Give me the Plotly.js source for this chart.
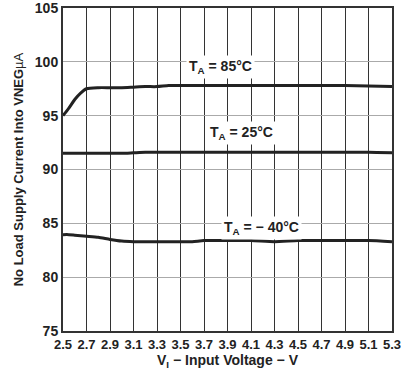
<!DOCTYPE html>
<html><head><meta charset="utf-8">
<script src="https://cdn.plot.ly/plotly-3.0.1.min.js"></script>
<style>body{margin:0;background:#fff}#c{width:401px;height:370px}</style>
</head><body><div id="c"></div>
<script>
const vIn = [2.5,2.55,2.6,2.65,2.7,2.8,2.9,3.0,3.1,3.2,3.3,3.4,3.5,3.6,3.7,3.9,4.1,4.3,4.5,4.7,4.9,5.1,5.3];
const i85 = [95.0,95.7,96.5,97.1,97.5,97.6,97.6,97.6,97.65,97.7,97.7,97.8,97.8,97.8,97.8,97.8,97.8,97.8,97.8,97.8,97.8,97.75,97.7];
const i25 = [91.5,91.5,91.5,91.5,91.5,91.5,91.5,91.5,91.55,91.6,91.6,91.6,91.6,91.6,91.6,91.6,91.6,91.6,91.6,91.6,91.6,91.6,91.55];
const iM40 = [83.95,83.95,83.9,83.85,83.8,83.7,83.5,83.35,83.3,83.3,83.3,83.3,83.3,83.3,83.4,83.4,83.4,83.3,83.4,83.4,83.4,83.4,83.3];
const xTicks = [2.5,2.7,2.9,3.1,3.3,3.5,3.7,3.9,4.1,4.3,4.5,4.7,4.9,5.1,5.3];
const yTicks = [75,80,85,90,95,100,105];
const labels = ["T<sub>A</sub> = 85°C","T<sub>A</sub> = 25°C","T<sub>A</sub> = − 40°C"];
const labelX = [3.84,4.02,4.19];
const labelY = [99.5,93.4,84.6];

const lineStyle = {color:'#222', width:3, shape:'spline', smoothing:0.6};
const traces = [i85,i25,iM40].map(y => ({x:vIn, y:y, mode:'lines', line:lineStyle, hoverinfo:'skip'}));
const fam = 'Liberation Sans, Arial, sans-serif';
const layout = {
  width:401, height:370,
  margin:{l:63, r:9, t:8, b:39},
  showlegend:false,
  paper_bgcolor:'#fff', plot_bgcolor:'#fff',
  font:{family:fam, color:'#222', size:12},
  xaxis:{range:[2.5,5.3], tickvals:xTicks, ticktext:xTicks.map(v=>v.toFixed(1)),
    showgrid:true, gridcolor:'#333', gridwidth:1, zeroline:false, ticks:'',
    showline:true, linecolor:'#333', linewidth:2, mirror:true, ticklabeloverflow:'allow',
    tickfont:{family:fam, size:13, color:'#222', weight:'bold'},
    title:{text:'V<sub>I</sub> − Input Voltage − V', standoff:4,
      font:{family:fam, size:14, color:'#222', weight:'bold'}}},
  yaxis:{range:[75,105], tickvals:yTicks, showgrid:true, gridcolor:'#aaa', gridwidth:1,
    zeroline:false, ticks:'', showline:true, linecolor:'#333', linewidth:2, mirror:true,
    ticklabeloverflow:'allow',
    tickfont:{family:fam, size:14, color:'#222', weight:'bold'},
    title:{text:'No Load Supply Current Into VNEG<span style="font-weight:normal">µA</span>', standoff:8,
      font:{family:fam, size:13, color:'#222', weight:'bold'}}},
  annotations: labels.map((t,i)=>({x:labelX[i], y:labelY[i], text:t, showarrow:false,
    bgcolor:'#fff', borderpad:2,
    font:{family:fam, size:14, color:'#222', weight:'bold'}}))
};
Plotly.newPlot('c', traces, layout, {staticPlot:true, displayModeBar:false});
</script></body></html>
